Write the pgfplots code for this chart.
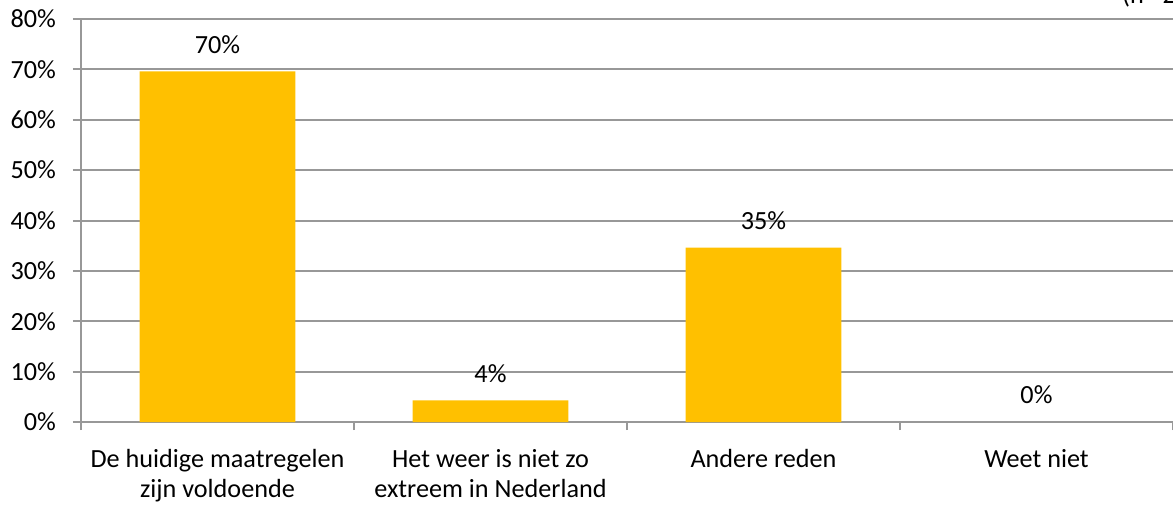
\documentclass[border=0pt]{standalone}
\usepackage{fontspec}
\setmainfont{Carlito}
\usepackage{pgfplots}
\pgfplotsset{compat=1.18}
\definecolor{bargold}{HTML}{FFC000}
\definecolor{gridgray}{HTML}{989898}
\begin{document}
\begin{tikzpicture}[font=\fontsize{13.1}{15.25}\selectfont]
\begin{axis}[
 at={(0pt,0pt)}, anchor=south west,
 scale only axis, width=546pt, height=201.5pt,
 xmin=-0.5, xmax=3.5, ymin=0, ymax=80,
 axis x line*=bottom, axis y line*=left,
 axis line style={gridgray, line width=1pt, -},
 ytick={0,10,...,80},
 yticklabels={0\%,10\%,20\%,30\%,40\%,50\%,60\%,70\%,80\%},
 ymajorgrids, grid style={gridgray, line width=1pt},
 xtick={0,1,2,3},
 xticklabels={{De huidige maatregelen\\zijn voldoende},{Het weer is niet zo\\extreem in Nederland},{Andere reden},{Weet niet}},
 xticklabel style={align=center, anchor=north, yshift=-6pt},
 major x tick style={draw=none},
 minor xtick={-0.5,0.5,1.5,2.5,3.5},
 tick align=outside, major tick length=4pt, minor tick length=4pt,
 every tick/.style={gridgray, line width=1pt},
 yticklabel style={anchor=east, xshift=-5pt},
 ybar, bar width=0.571, bar shift=0pt,
 point meta=explicit symbolic,
 nodes near coords,
 every node near coord/.append style={anchor=south, yshift=5.5pt, text=black},
 clip=false,
]
\addplot[fill=bargold, draw=none] coordinates {
 (0,69.6) [70\%]
 (1,4.3) [4\%]
 (2,34.6) [35\%]
};
\addplot[fill=none, draw=none] coordinates {
 (3,0) [0\%]
};
\end{axis}
\node[anchor=base west] at (517pt,209.5pt) {(n= 23)};
\pgfresetboundingbox
\useasboundingbox (-40.5pt,-41.5pt) rectangle (546pt,211pt);
\end{tikzpicture}
\end{document}
